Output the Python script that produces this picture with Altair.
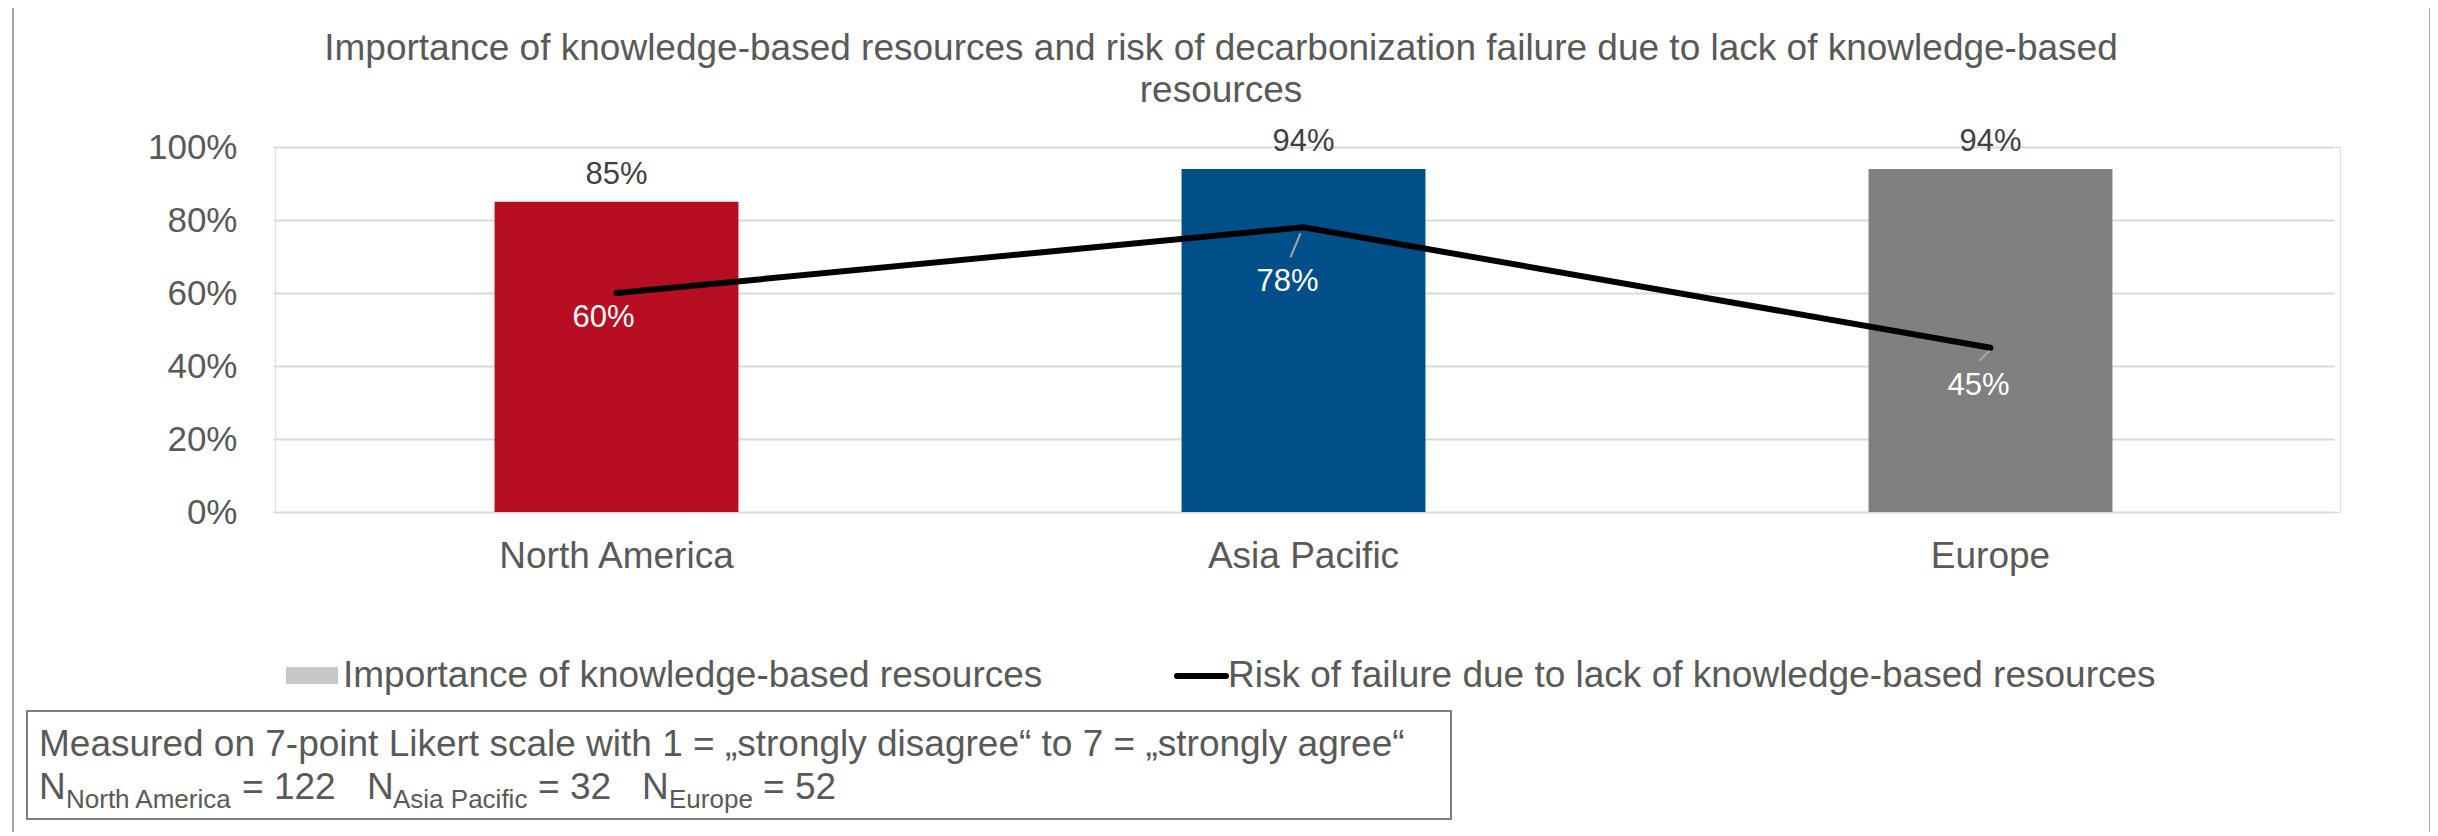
import altair as alt
import pandas as pd

# ---------------- data ----------------
regions = ["North America", "Asia Pacific", "Europe"]
importance = [0.85, 0.94, 0.94]
risk = [0.60, 0.78, 0.45]
bar_colors = ["#B70E23", "#004F8A", "#808080"]
y_ticks = [0, 0.2, 0.4, 0.6, 0.8, 1.0]

title_lines = [
    "Importance of knowledge-based resources and risk of decarbonization failure due to lack of knowledge-based",
    "resources",
]
legend_labels = [
    "Importance of knowledge-based resources",
    "Risk of failure due to lack of knowledge-based resources",
]
note_line1 = "Measured on 7-point Likert scale with 1 = \u201estrongly disagree\u201c to 7 = \u201estrongly agree\u201c"
sample_groups = ["North America", "Asia Pacific", "Europe"]
sample_sizes = [122, 32, 52]

df = pd.DataFrame({"region": regions, "importance": importance, "risk": risk})

FONT = "Liberation Sans"
TXT = "#595959"
W, H = 2065, 365

x_enc = alt.X(
    "region:N",
    sort=regions,
    scale=alt.Scale(paddingInner=0.645, paddingOuter=0.3225, range=[-2, 2059]),
    axis=alt.Axis(title=None, labelAngle=0, domain=False, ticks=False, labelLimit=0,
                  labelFontSize=37, labelColor=TXT, labelFont=FONT, labelPadding=26),
)
y_axis = alt.Axis(title=None, values=y_ticks, format=".0%", domain=False, ticks=False,
                  labelFontSize=35, labelColor=TXT, labelFont=FONT, labelPadding=38,
                  gridColor="#D9D9D9", gridWidth=2)
y_scale = alt.Scale(domain=[0, 1])

base = alt.Chart(df)

bars = base.mark_bar().encode(
    x=x_enc,
    y=alt.Y("importance:Q", scale=y_scale, axis=y_axis),
    color=alt.Color("region:N", scale=alt.Scale(domain=regions, range=bar_colors), legend=None),
)

bar_labels = base.mark_text(baseline="alphabetic", dy=-18, fontSize=31, color="#404040", font=FONT).encode(
    x=alt.X("region:N", sort=regions),
    y=alt.Y("importance:Q"),
    text=alt.Text("importance:Q", format=".0%"),
)

line = base.mark_line(color="black", strokeWidth=6, strokeCap="round", strokeJoin="miter").encode(
    x=alt.X("region:N", sort=regions),
    y=alt.Y("risk:Q"),
)

label_offsets = {"North America": (-13, 34), "Asia Pacific": (-16, 64), "Europe": (-12, 47)}
line_labels = []
for r in regions:
    dx, dy = label_offsets[r]
    line_labels.append(
        base.transform_filter(alt.datum.region == r)
        .mark_text(baseline="alphabetic", dx=dx, dy=dy, fontSize=31, color="white", font=FONT)
        .encode(x=alt.X("region:N", sort=regions), y=alt.Y("risk:Q"),
                text=alt.Text("risk:Q", format=".0%"))
    )

leader_offsets = {"Asia Pacific": (-3, 6, -13, 30), "Europe": (-1, 3, -11, 13)}
leaders = []
for r, (x1, y1, x2, y2) in leader_offsets.items():
    leaders.append(
        base.transform_filter(alt.datum.region == r)
        .mark_rule(color="#A6A6A6", strokeWidth=2, xOffset=x1, yOffset=y1, x2Offset=x2, y2Offset=y2)
        .encode(x=alt.X("region:N", sort=regions), x2=alt.X2("region:N"),
                y=alt.Y("risk:Q"), y2=alt.Y2("risk:Q"))
    )

# ---------------- annotations (title, legend, note, frame) ----------------
anno = alt.Chart(pd.DataFrame({"a": [0]}))

frame = anno.mark_rect(filled=False, stroke="#A6A6A6", strokeWidth=2).encode(
    x=alt.value(-262), x2=alt.value(2155), y=alt.value(-144), y2=alt.value(720))

title1 = anno.mark_text(fontSize=37, color=TXT, font=FONT, align="center", baseline="alphabetic").encode(
    x=alt.value(946), y=alt.value(-87), text=alt.value(title_lines[0]))
title2 = anno.mark_text(fontSize=37, color=TXT, font=FONT, align="center", baseline="alphabetic").encode(
    x=alt.value(946), y=alt.value(-45), text=alt.value(title_lines[1]))

leg_rect = anno.mark_rect(color="#C8C8C8").encode(
    x=alt.value(11), x2=alt.value(63), y=alt.value(520), y2=alt.value(537))
leg_text1 = anno.mark_text(fontSize=37, color=TXT, font=FONT, align="left", baseline="alphabetic").encode(
    x=alt.value(68), y=alt.value(540), text=alt.value(legend_labels[0]))
leg_line = anno.mark_rule(color="black", strokeWidth=6, strokeCap="round").encode(
    x=alt.value(902), x2=alt.value(951), y=alt.value(529))
leg_text2 = anno.mark_text(fontSize=37, color=TXT, font=FONT, align="left", baseline="alphabetic").encode(
    x=alt.value(953), y=alt.value(540), text=alt.value(legend_labels[1]))

note_box = anno.mark_rect(fill="white", stroke="#7F7F7F", strokeWidth=2).encode(
    x=alt.value(-248), x2=alt.value(1176), y=alt.value(564), y2=alt.value(672))
note1 = anno.mark_text(fontSize=37, color=TXT, font=FONT, align="left", baseline="alphabetic").encode(
    x=alt.value(-236), y=alt.value(609), text=alt.value(note_line1))

note_pieces = []
main_x = [-236, 92, 367]
sub_x = [-209, 118, 394]
eq_x = [-33, 263, 488]
for g, n, mx, sx, ex in zip(sample_groups, sample_sizes, main_x, sub_x, eq_x):
    note_pieces.append(anno.mark_text(fontSize=37, color=TXT, font=FONT, align="left", baseline="alphabetic").encode(
        x=alt.value(mx), y=alt.value(652), text=alt.value("N")))
    note_pieces.append(anno.mark_text(fontSize=26, color=TXT, font=FONT, align="left", baseline="alphabetic").encode(
        x=alt.value(sx), y=alt.value(661), text=alt.value(g)))
    note_pieces.append(anno.mark_text(fontSize=37, color=TXT, font=FONT, align="left", baseline="alphabetic").encode(
        x=alt.value(ex), y=alt.value(652), text=alt.value(f"= {n}")))

chart = alt.layer(
    frame, bars, line, *leaders, bar_labels, *line_labels,
    title1, title2, leg_rect, leg_text1, leg_line, leg_text2, note_box, note1, *note_pieces,
).properties(
    width=W, height=H,
    padding={"left": 267, "top": 139, "right": 90, "bottom": 320},
    autosize=alt.AutoSizeParams(type="none"),
).configure_view(stroke=None).configure(background="white")

chart.save("out.html", embed_options={"renderer": "svg", "actions": False})
